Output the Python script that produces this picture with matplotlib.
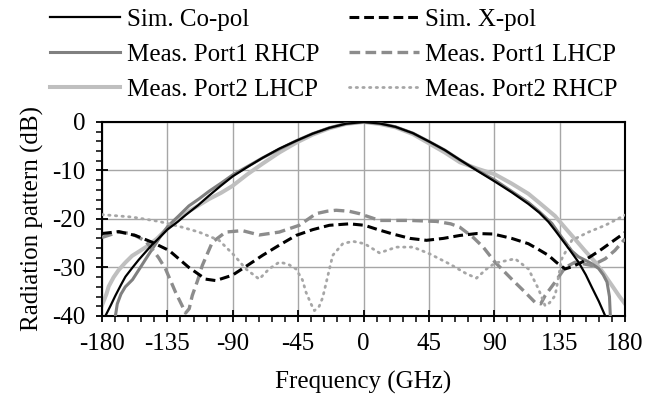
import numpy as np
import matplotlib.pyplot as plt
from matplotlib.ticker import MultipleLocator

plt.rcParams['font.family'] = ['Liberation Serif', 'DejaVu Serif']
plt.rcParams['axes.unicode_minus'] = False

# Sim. Co-pol (black solid)
co_ang = [-177.7, -174, -170.8, -167, -163.9, -159, -154.7, -150, -145.5, -140, -134.7, -128, -122.5,
          -114, -106.4, -98, -90, -80, -69.5, -58, -46.5, -35, -23.5, -12, 0, 11, 22, 34, 45.6, 56,
          66.3, 78, 90.5, 102, 113.5, 121, 127.3, 132, 136.5, 142, 148, 153, 157.2, 162, 166.4]
co_db = [-40, -37.8, -35.8, -33.6, -31.9, -30, -28.4, -26.8, -25.3, -23.7, -22.1, -20.6, -19.2,
         -17.2, -15.2, -13.1, -11.2, -9.3, -7.4, -5.5, -3.9, -2.4, -1.2, -0.35, 0, -0.3, -1.0, -2.3, -4.1, -5.8,
         -7.8, -10, -12.3, -14.5, -16.9, -18.7, -20.6, -22.4, -24.2, -26.4, -28.9, -31.5, -34.1, -37, -40]

# Sim. X-pol (black dashed)
x_ang = [-180, -168.5, -157, -145.5, -133.8, -120.2, -108.7, -101.7, -90.3, -80, -69.5, -58, -46.5,
         -35, -23.5, -9.7, 0.7, 10, 20.2, 32, 43.3, 55, 66.3, 78, 89.3, 102, 113.5, 120, 127.3, 133,
         138.8, 144, 150.3, 157, 164.1, 172, 180]
x_db = [-23, -22.6, -23.4, -24.8, -26.5, -30, -32.4, -32.7, -31.6, -29.6, -27.5, -25.4, -23.4,
        -22.2, -21.3, -21, -21.3, -22.2, -23.1, -24, -24.4, -24, -23.4, -23, -23.1, -24, -25.1, -26.2, -27.5, -29,
        -30.3, -29.8, -28.9, -27.6, -26.2, -24.5, -22.8]

# Meas. Port1 RHCP (dark gray solid)
p1r_ang = [-170.8, -169.5, -167, -164, -159, -154.7, -150, -145, -140, -134.7, -127, -120.2, -113,
           -106.4, -98, -90, -80, -69.5, -58, -46.5, -35, -23.5, -12, 0, 11, 22, 34, 45.6, 56, 66.3,
           78, 90.5, 102, 113.5, 121, 129.6, 136, 143.4, 148, 152.6, 157, 161.8, 165, 167.6, 169.3, 169.9]
p1r_db = [-40, -37.5, -35.5, -34, -32.5, -30.5, -28.3, -26, -23.7, -21.5, -19.3, -17.3, -15.8,
          -14.3, -12.6, -10.9, -9.2, -7.4, -5.6, -3.9, -2.4, -1.2, -0.35, 0, -0.3, -1.0, -2.3, -4.1, -5.8, -7.8,
          -9.9, -12, -14.3, -16.6, -18.5, -20.9, -23.6, -26.6, -27.8, -28.5, -29.2, -30.2, -31.5, -33, -36, -40]

# Meas. Port2 LHCP (light gray solid)
p2l_ang = [-180, -177, -175.4, -172, -168.5, -164, -159.3, -154, -147.8, -142, -136.3, -128, -120.2,
           -113, -106.4, -98, -90.3, -80, -69.5, -58, -46.5, -35, -23.5, -12, 0, 11, 22, 34, 45.6, 56,
           66.3, 78, 90.5, 102, 113.5, 122, 131.9, 139, 145.7, 152, 159.5, 165, 171, 176, 180]
p2l_db = [-37.8, -35.5, -33.9, -32, -30.5, -29, -27.6, -26.6, -25.4, -24, -22.3, -20.2, -18.4,
          -17.1, -15.9, -14.6, -13.2, -10.8, -8.6, -6.3, -4.3, -2.6, -1.3, -0.4, 0, -0.4, -1.1, -2.5, -4.5, -6.3,
          -8.3, -9.6, -10.8, -12.7, -14.8, -16.9, -19.4, -21.9, -24.2, -26.4, -28.9, -31.1, -33.7, -35.9, -37.5]

# Meas. Port1 LHCP (gray dashed)
p1l_ang = [-180, -168.5, -160, -154.7, -150, -145.5, -141, -136.3, -129.4, -125, -122.5, -120, -117.9,
           -114, -111, -104.1, -94.9, -83.4, -71.8, -58, -44.2, -38, -32.7, -25, -18.9, -10, -2.8, 11,
           31.8, 50.2, 60, 66.3, 75.5, 82.4, 90.5, 102, 111.2, 118.1, 122, 125, 131.9, 138.8, 145.7,
           157.2, 166.4, 173, 180]
p1l_db = [-23.8, -22.7, -23, -23.8, -24.6, -26.2, -28, -30.3, -35.1, -37.8, -39.4, -38.5, -35.8,
          -32.5, -29.6, -24.8, -22.7, -22.4, -23.3, -22.7, -21.3, -20, -18.9, -18.4, -18.2, -18.4, -18.9, -20.3,
          -20.3, -20.5, -21, -21.7, -23.8, -25.8, -28.9, -32.4, -35.1, -37.2, -37.5, -35.8, -33, -30, -28.9,
          -29.6, -28.2, -26.5, -24.1]

# Meas. Port2 RHCP (dotted)
p2r_ang = [-180, -159.3, -140.9, -124.8, -113.3, -99.4, -89, -81, -71.8, -65, -58, -52, -46.5, -42,
           -39.6, -36, -33.8, -30.5, -28.1, -24, -21.2, -14.3, -7.4, 0.7, 11, 22.6, 34.1, 45.6, 59.4,
           70.9, 77.8, 84.7, 90.5, 104.3, 113.5, 120.4, 125, 128, 131.9, 136.5, 143.4, 154.9, 166.4, 180]
p2r_db = [-19.1, -19.6, -20.5, -21.7, -22.7, -24.4, -27.5, -30.3, -32.4, -30.3, -28.9, -29.3, -30.3,
          -32.6, -35.1, -37.6, -38.9, -38, -36.2, -31, -27.5, -25.1, -24.6, -25.1, -27, -25.8, -25.8, -27.2,
          -29.3, -31.3, -32.2, -30.3, -29.1, -28.2, -30.3, -34.4, -37.9, -37.3, -35.8, -28.2, -24.4, -22.7,
          -21.3, -19.2]

fig = plt.figure(figsize=(6.47, 4.05), dpi=100)
ax = fig.add_axes([0.1577, 0.2198, 0.8083, 0.479])

l_p1r, = ax.plot(p1r_ang, p1r_db, color='#808080', lw=2.2, zorder=3)
l_p2l, = ax.plot(p2l_ang, p2l_db, color='#bfbfbf', lw=2.9, zorder=2)
l_p1l, = ax.plot(p1l_ang, p1l_db, color='#8c8c8c', lw=2.4, ls=(0, (3.2, 1.6)), zorder=3)
l_p2r, = ax.plot(p2r_ang, p2r_db, color='#a6a6a6', lw=2.0, ls=(0, (0.5, 1.9)),
                 dash_capstyle='round', zorder=3)
l_co, = ax.plot(co_ang, co_db, color='black', lw=1.6, zorder=4)
l_x, = ax.plot(x_ang, x_db, color='black', lw=2.2, ls=(0, (3.2, 1.6)), zorder=4)

ax.set_xlim(-180, 180)
ax.set_ylim(-40, 0)
ax.xaxis.set_major_locator(MultipleLocator(45))
ax.xaxis.set_minor_locator(MultipleLocator(9))
ax.yaxis.set_major_locator(MultipleLocator(10))
ax.yaxis.set_minor_locator(MultipleLocator(2))
ax.grid(True, which='major', color='#a6a6a6', lw=1.0)
ax.set_axisbelow(True)
for s in ax.spines.values():
    s.set_linewidth(1.5)
ax.tick_params(which='major', direction='inout', length=8, width=1.3, labelsize=18, pad=8)
ax.tick_params(which='minor', direction='out', length=4, width=1.1)
ax.set_xlabel('Frequency (GHz)', fontsize=18, labelpad=12)
ax.set_ylabel('Radiation pattern (dB)', fontsize=18, labelpad=6)

handles = [l_co, l_p1r, l_p2l, l_x, l_p1l, l_p2r]
labels = ['Sim. Co-pol', 'Meas. Port1 RHCP', 'Meas. Port2 LHCP',
          'Sim. X-pol', 'Meas. Port1 LHCP', 'Meas. Port2 RHCP']
fig.legend(handles, labels, ncol=2, loc='upper left', bbox_to_anchor=(0.074, 0.985),
           frameon=False, fontsize=18, handlelength=2.8, handletextpad=0.25, columnspacing=1.2,
           labelspacing=0.5, borderpad=0.1, borderaxespad=0)

fig.savefig('out.png', dpi=100)
